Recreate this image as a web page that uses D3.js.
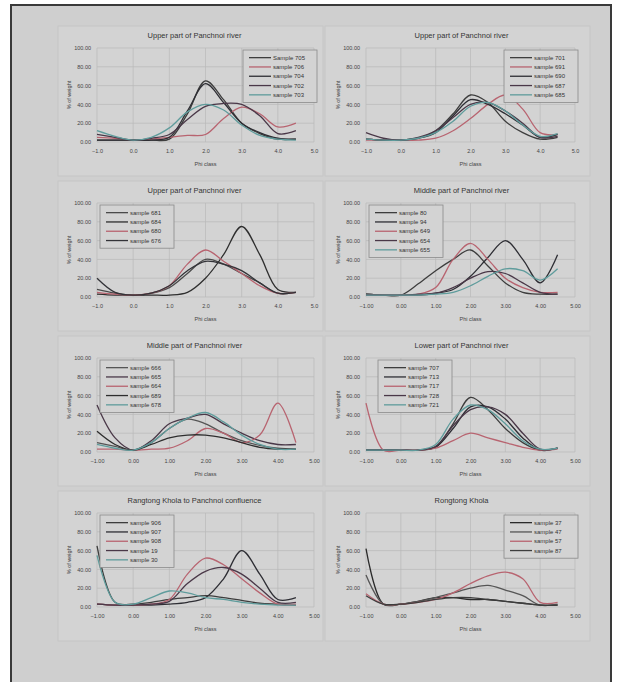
<!DOCTYPE html>
<html>
<head>
<meta charset="utf-8">
<script src="https://cdn.jsdelivr.net/npm/d3@7"></script>
<style>
  body { margin: 0; background: #fff; }
  text { font-family: "Liberation Sans", Arial, sans-serif; }
</style>
</head>
<body>
<div id="chart"></div>
<script>
// phi classes the sieve data was taken at
var phi = [-1, -0.5, 0, 0.5, 1, 1.5, 2, 2.5, 3, 3.5, 4, 4.5];
var yTicks = [0, 20, 40, 60, 80, 100];
var xTicks = [-1, 0, 1, 2, 3, 4, 5];

var titles = [
  "Upper part of Panchnoi river", "Upper part of Panchnoi river",
  "Upper part of Panchnoi river", "Middle part of Panchnoi river",
  "Middle part of Panchnoi river", "Lower part of Panchnoi river",
  "Rangtong Khola to Panchnoi confluence", "Rongtong Khola"
];

var p1Names = ["Sample 705", "sample 706", "sample 704", "sample 702", "sample 703"];
var p1Values = [
  [2, 2, 2, 2, 3, 30, 65, 45, 20, 9, 3, 3],
  [5, 4, 2, 3, 5, 7, 8, 25, 37, 30, 16, 20],
  [2, 2, 2, 2, 5, 33, 62, 42, 20, 10, 4, 3],
  [8, 5, 2, 4, 8, 24, 38, 41, 40, 28, 9, 12],
  [12, 6, 2, 5, 15, 32, 40, 34, 18, 7, 3, 2]
];

var p2Names = ["sample 701", "sample 691", "sample 690", "sample 687", "sample 685"];
var p2Values = [
  [3, 2, 2, 4, 12, 30, 50, 42, 22, 10, 3, 5],
  [2, 2, 2, 2, 4, 12, 25, 40, 50, 35, 10, 8],
  [3, 2, 2, 4, 10, 28, 45, 40, 30, 18, 5, 8],
  [10, 4, 2, 5, 12, 26, 40, 42, 33, 20, 5, 6],
  [3, 2, 2, 4, 10, 22, 38, 42, 33, 18, 6, 9]
];

var p3Names = ["sample 681", "sample  684", "sample 680", "sample  676"];
var p3Values = [
  [8, 4, 2, 4, 10, 25, 40, 35, 25, 15, 4, 5],
  [3, 2, 2, 2, 2, 5, 20, 45, 75, 45, 8, 5],
  [5, 3, 2, 4, 12, 35, 50, 38, 25, 12, 4, 5],
  [20, 5, 2, 4, 12, 28, 38, 35, 28, 15, 4, 5]
];

var p4Names = ["sample 80", "sample 94", "sample 649", "sample 654", "sample 655"];
var p4Values = [
  [3, 2, 2, 14, 28, 40, 50, 33, 15, 5, 3, 3],
  [3, 2, 2, 2, 4, 8, 22, 42, 60, 40, 15, 45],
  [2, 2, 2, 3, 10, 40, 57, 40, 20, 10, 5, 5],
  [2, 2, 2, 3, 4, 10, 20, 27, 25, 15, 5, 3],
  [2, 2, 2, 2, 3, 5, 12, 22, 30, 28, 18, 30]
];

var p5Names = ["sample 666", "sample 665", "sample 664", "sample 689", "sample 678"];
var p5Values = [
  [10, 6, 2, 10, 25, 35, 30, 20, 12, 7, 4, 3],
  [50, 15, 2, 12, 30, 36, 40, 30, 20, 12, 8, 8],
  [3, 3, 2, 3, 4, 12, 25, 20, 10, 18, 52, 10],
  [22, 8, 2, 8, 15, 18, 18, 15, 10, 5, 3, 3],
  [8, 4, 2, 10, 25, 36, 42, 32, 18, 8, 3, 3]
];

var p6Names = ["sample 707", "sample 713", "sample 717", "sample 728", "sample 721"];
var p6Values = [
  [2, 2, 2, 2, 5, 30, 58, 45, 25, 10, 2, 4],
  [2, 2, 2, 2, 5, 25, 48, 48, 35, 15, 2, 4],
  [52, 2, 2, 2, 4, 12, 20, 15, 10, 5, 2, 3],
  [2, 2, 2, 2, 6, 28, 45, 48, 40, 20, 3, 4],
  [2, 2, 2, 2, 8, 35, 50, 45, 30, 12, 3, 4]
];

var p7Names = ["sample 906", "sample 907", "sample 908", "sample 19", "sample 30"];
var p7Values = [
  [65, 5, 3, 5, 8, 10, 12, 10, 7, 4, 3, 2],
  [3, 2, 2, 2, 3, 5, 10, 30, 60, 35, 8, 10],
  [3, 2, 2, 3, 8, 35, 52, 45, 30, 15, 3, 3],
  [3, 2, 2, 3, 6, 25, 38, 42, 35, 20, 5, 5],
  [55, 5, 3, 10, 17, 15, 10, 8, 5, 3, 2, 2]
];

var p8Names = ["sample 37", "sample 47", "sample 57", "sample 87"];
var p8Values = [
  [62, 3, 3, 6, 10, 10, 8, 8, 6, 4, 2, 2],
  [34, 3, 3, 6, 10, 15, 20, 23, 18, 12, 2, 3],
  [14, 3, 3, 5, 8, 15, 25, 33, 37, 30, 5, 5],
  [12, 3, 3, 5, 8, 10, 10, 8, 6, 4, 2, 2]
];

var red = "#b86470", teal = "#5f9c9c";
var colorsA = ["#3d3d3d", red, "#2e2e34", "#4a3848", teal];   // red 2nd
var colorsC = ["#3d3d3d", "#2e2e34", red, "#4a3848", teal];   // red 3rd
var colorsB = ["#4a4a4a", "#2e2e2e", red, "#333338"];

var panels = [
  {names: p1Names, values: p1Values, colors: colorsA, fmt: ".1f", legend: "tr"},
  {names: p2Names, values: p2Values, colors: colorsA, fmt: ".1f", legend: "tr"},
  {names: p3Names, values: p3Values, colors: colorsB, fmt: ".1f", legend: "tl"},
  {names: p4Names, values: p4Values, colors: colorsC, fmt: ".2f", legend: "tl"},
  {names: p5Names, values: p5Values, colors: ["#555", "#4a3848", red, "#2e2e2e", teal], fmt: ".2f", legend: "tl"},
  {names: p6Names, values: p6Values, colors: colorsC, fmt: ".2f", legend: "tl"},
  {names: p7Names, values: p7Values, colors: colorsC, fmt: ".2f", legend: "tl"},
  {names: p8Names, values: p8Values, colors: ["#2a2a2a", "#555", red, "#3d3d3d"], fmt: ".2f", legend: "tr"}
];

var W = 619, H = 682;
var svg = d3.select("#chart").append("svg")
  .attr("width", W).attr("height", H);

// outer framed gray sheet
svg.append("rect")
  .attr("x", 11).attr("y", 5).attr("width", 600).attr("height", 690)
  .attr("fill", "#cfcfcf").attr("stroke", "#3a3a3a").attr("stroke-width", 2);

var colX = [58, 325], rowY = [26, 181, 336, 491];
var panelW = 265, panelH = 150;

panels.forEach(function(p, i){
  var px = colX[i % 2], py = rowY[Math.floor(i / 2)];
  var g = svg.append("g").attr("transform", "translate(" + px + "," + py + ")");

  g.append("rect").attr("width", panelW).attr("height", panelH)
    .attr("fill", "#d3d3d3").attr("stroke", "#c4c4c4").attr("stroke-width", 0.8);

  var left = (i % 2 == 0) ? 39 : 41, right = (i % 2 == 0) ? 256 : 250;
  var x = d3.scaleLinear().domain([-1, 5]).range([left, right]);
  var y = d3.scaleLinear().domain([0, 100]).range([116, 22]);

  g.append("text").attr("x", panelW / 2 + 4).attr("y", 12)
    .attr("text-anchor", "middle").attr("font-size", 7.5)
    .attr("fill", "#333").text(titles[i]);

  // grid
  g.selectAll(".hg").data(yTicks).enter().append("line")
    .attr("x1", left).attr("x2", right)
    .attr("y1", function(d){ return y(d); }).attr("y2", function(d){ return y(d); })
    .attr("stroke", "#b9b9b9").attr("stroke-width", 0.7);
  g.selectAll(".vg").data(xTicks).enter().append("line")
    .attr("y1", y(0)).attr("y2", y(100))
    .attr("x1", function(d){ return x(d); }).attr("x2", function(d){ return x(d); })
    .attr("stroke", "#b9b9b9").attr("stroke-width", 0.7);

  var yAxis = d3.axisLeft(y).tickValues(yTicks).tickSize(0).tickPadding(6)
    .tickFormat(d3.format(".2f"));
  var ya = g.append("g").attr("transform", "translate(" + left + ",0)").call(yAxis);
  var xAxis = d3.axisBottom(x).tickValues(xTicks).tickSize(0).tickPadding(7)
    .tickFormat(d3.format(p.fmt));
  var xa = g.append("g").attr("transform", "translate(0," + y(0) + ")").call(xAxis);
  [ya, xa].forEach(function(a){
    a.select(".domain").remove();
    a.selectAll("text").attr("font-size", 5.5).attr("fill", "#444")
      .attr("font-family", "Liberation Sans, Arial, sans-serif");
  });

  g.append("text").attr("x", (left + right) / 2).attr("y", 140)
    .attr("text-anchor", "middle").attr("font-size", 5.5).attr("fill", "#444")
    .text("Phi class");
  g.append("text")
    .attr("transform", "translate(" + (left - 26) + "," + y(50) + ") rotate(-90)")
    .attr("text-anchor", "middle").attr("font-size", 5.5).attr("fill", "#444")
    .text("% of weight");

  var line = d3.line()
    .x(function(d, k){ return x(phi[k]); })
    .y(function(d){ return y(d); })
    .curve(d3.curveCatmullRom.alpha(0.5));

  g.selectAll(".series").data(p.values).enter().append("path")
    .attr("d", line).attr("fill", "none")
    .attr("stroke", function(d, k){ return p.colors[k]; })
    .attr("stroke-width", 1.3);

  // legend box
  var rowH = 9.3, lw = 74, lh = p.names.length * rowH + 6;
  var lx = p.legend == "tr" ? right - lw + 3 : left + 3;
  if (i == 5) lx = left + 12;
  var ly = y(100) + 2;
  var lg = g.append("g").attr("transform", "translate(" + lx + "," + ly + ")");
  lg.append("rect").attr("width", lw).attr("height", lh)
    .attr("fill", "#d3d3d3").attr("stroke", "#8a8a8a").attr("stroke-width", 0.8);
  p.names.forEach(function(n, k){
    var yy = 3 + rowH * k + rowH / 2;
    lg.append("line").attr("x1", 6).attr("x2", 28).attr("y1", yy).attr("y2", yy)
      .attr("stroke", p.colors[k]).attr("stroke-width", 1.3);
    lg.append("text").attr("x", 30).attr("y", yy + 2).attr("font-size", 6)
      .attr("fill", "#333").text(n);
  });
});
</script>
</body>
</html>
